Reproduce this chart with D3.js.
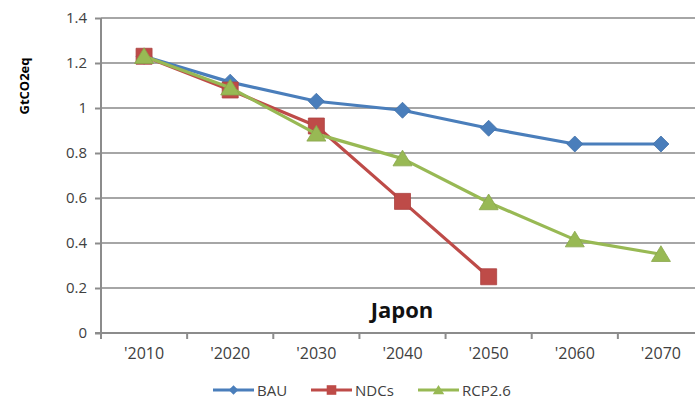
<!DOCTYPE html>
<html>
<head>
<meta charset="utf-8">
<script src="https://cdn.jsdelivr.net/npm/d3@7"></script>
<style>
  html, body { margin: 0; padding: 0; background: #fff; }
  svg { display: block; font-family: "Open Sans", "DejaVu Sans", sans-serif; }
</style>
</head>
<body>
<svg id="chart" width="695" height="398"></svg>
<script>
// Emissions pathways for Japan (GtCO2eq)
const years = ["'2010", "'2020", "'2030", "'2040", "'2050", "'2060", "'2070"];
const bau = [1.23, 1.115, 1.03, 0.99, 0.91, 0.84, 0.84];
const ndcs = [1.23, 1.08, 0.92, 0.585, 0.25];
const rcp26 = [1.23, 1.09, 0.885, 0.775, 0.58, 0.415, 0.35];
const yTicks = [0, 0.2, 0.4, 0.6, 0.8, 1, 1.2, 1.4];
const yTickLabels = ["0", "0.2", "0.4", "0.6", "0.8", "1", "1.2", "1.4"];

const seriesList = [
  { name: "BAU", values: bau, color: "#4a7ebb", marker: "diamond" },
  { name: "NDCs", values: ndcs, color: "#be4b48", marker: "square" },
  { name: "RCP2.6", values: rcp26, color: "#98b954", marker: "triangle" }
];

const svg = d3.select("#chart");
const plot = { left: 101, right: 704, top: 18, bottom: 333 };

const x = d3.scaleBand().domain(years).range([plot.left, plot.right]);
const y = d3.scaleLinear().domain([0, 1.4]).range([plot.bottom, plot.top]);
const cx = d => x(d) + x.bandwidth() / 2;

// horizontal gridlines
svg.append("g")
  .selectAll("line")
  .data(yTicks.filter(t => t > 0))
  .join("line")
  .attr("x1", plot.left).attr("x2", plot.right)
  .attr("y1", d => y(d)).attr("y2", d => y(d))
  .attr("stroke", "#a6a6a6").attr("stroke-width", 2);

// y axis
const yAxis = svg.append("g")
  .attr("transform", `translate(${plot.left},0)`)
  .call(d3.axisLeft(y).tickValues(yTicks)
    .tickFormat((d, i) => yTickLabels[i]).tickSize(6).tickPadding(8));
yAxis.select(".domain").attr("stroke", "#8c8c8c").attr("stroke-width", 2)
  .attr("d", `M0,${plot.top}V${plot.bottom}`);
yAxis.selectAll(".tick line").attr("stroke", "#8c8c8c").attr("stroke-width", 2);
yAxis.selectAll(".tick text").attr("fill", "#404040").attr("font-size", 15)
  .attr("font-family", "'Open Sans', sans-serif");

// x axis: ticks sit on band boundaries
const xAxis = svg.append("g")
  .attr("transform", `translate(0,${plot.bottom})`);
xAxis.append("line")
  .attr("x1", plot.left - 6).attr("x2", plot.right)
  .attr("stroke", "#8c8c8c").attr("stroke-width", 2);
xAxis.selectAll(".xt")
  .data(years)
  .join("line")
  .attr("class", "xt")
  .attr("x1", d => x(d)).attr("x2", d => x(d))
  .attr("y1", 0).attr("y2", 6)
  .attr("stroke", "#8c8c8c").attr("stroke-width", 2);
xAxis.selectAll(".xl")
  .data(years)
  .join("text")
  .attr("class", "xl")
  .attr("x", d => cx(d)).attr("y", 26)
  .attr("text-anchor", "middle")
  .attr("fill", "#404040").attr("font-size", 16)
  .text(d => d);

// y axis title
svg.append("text")
  .attr("transform", "translate(29,86) rotate(-90)")
  .attr("text-anchor", "middle")
  .attr("font-size", 13).attr("font-weight", "bold").attr("fill", "#000")
  .text("GtCO2eq");

// chart title
svg.append("text")
  .attr("x", 402).attr("y", 318)
  .attr("text-anchor", "middle")
  .attr("font-size", 22).attr("font-weight", "bold").attr("fill", "#111")
  .text("Japon");

// marker shapes centred on the origin, scaled by k
function markerPath(type, k) {
  const p = d3.path();
  if (type === "diamond") {
    const r = 8 * k;
    p.moveTo(0, -r); p.lineTo(r, 0); p.lineTo(0, r); p.lineTo(-r, 0);
  } else if (type === "square") {
    const h = 8 * k;
    p.rect(-h, -h, 2 * h, 2 * h);
  } else {
    const w = 9.5 * k, h = 8.5 * k;
    p.moveTo(0, -h); p.lineTo(w, h * 0.85); p.lineTo(-w, h * 0.85);
  }
  p.closePath();
  return p.toString();
}

const line = d3.line().x((d, i) => cx(years[i])).y(d => y(d));

seriesList.forEach(s => {
  const g = svg.append("g");
  g.append("path")
    .attr("d", line(s.values))
    .attr("fill", "none")
    .attr("stroke", s.color).attr("stroke-width", 3.2)
    .attr("stroke-linejoin", "round");
  g.selectAll("path.mk")
    .data(s.values)
    .join("path")
    .attr("class", "mk")
    .attr("d", markerPath(s.marker, 1))
    .attr("transform", (d, i) => `translate(${cx(years[i])},${y(d)})`)
    .attr("fill", s.color)
    .attr("stroke", d3.color(s.color).darker(0.3)).attr("stroke-width", 0.8);
});

// legend
const legendX = [213, 311, 418];
const legend = svg.append("g");
seriesList.forEach((s, i) => {
  const lg = legend.append("g").attr("transform", `translate(${legendX[i]},390)`);
  lg.append("line").attr("x1", 0).attr("x2", 41)
    .attr("stroke", s.color).attr("stroke-width", 3.2);
  lg.append("path")
    .attr("d", markerPath(s.marker, 0.6))
    .attr("transform", "translate(20.5,0)")
    .attr("fill", s.color);
  lg.append("text").attr("x", 44).attr("y", 5.5)
    .attr("font-size", 15).attr("fill", "#404040")
    .text(s.name);
});
</script>
</body>
</html>
